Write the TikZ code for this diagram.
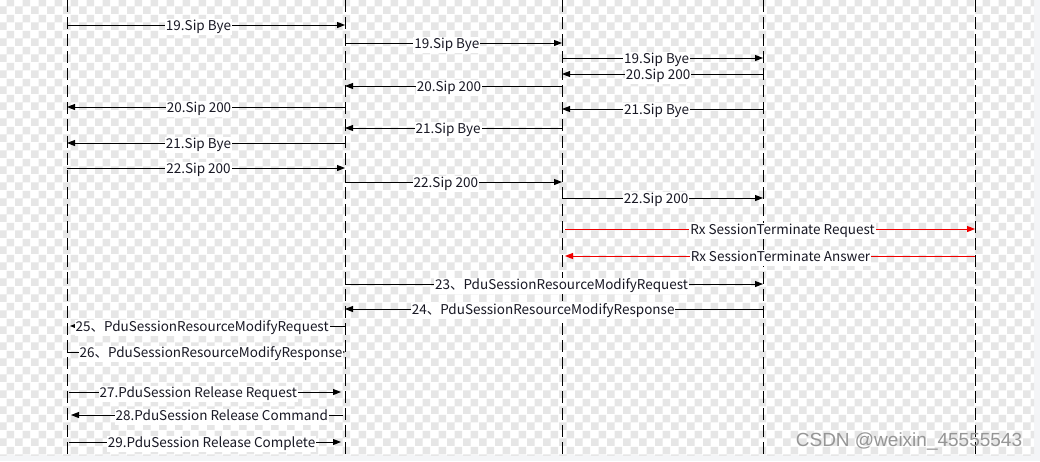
\documentclass[tikz,border=0pt]{standalone}
\usepackage{fontspec}
\newfontfamily\cjkfont{Noto Sans CJK SC}
\newfontfamily\wmfont{Liberation Sans}
\usetikzlibrary{arrows.meta,patterns}
\definecolor{checkgray}{RGB}{230,230,230}
\definecolor{edgegray}{RGB}{244,245,247}
\definecolor{labelink}{RGB}{24,24,36}
\definecolor{msgred}{RGB}{240,0,0}
\definecolor{wmgray}{RGB}{150,150,150}
% 8px transparency checker
\pgfdeclarepatternformonly{checker}{\pgfqpoint{0pt}{0pt}}{\pgfqpoint{16pt}{16pt}}{\pgfqpoint{16pt}{16pt}}{%
  \pgfpathrectangle{\pgfqpoint{0pt}{0pt}}{\pgfqpoint{8pt}{8pt}}%
  \pgfpathrectangle{\pgfqpoint{8pt}{8pt}}{\pgfqpoint{8pt}{8pt}}%
  \pgfusepath{fill}}
\begin{document}
\begin{tikzpicture}[x=1pt,y=-1pt,
  life/.style={line width=1pt,dash pattern=on 12pt off 5pt},
  msg/.style={line width=1pt,-{Triangle[length=8pt,width=6pt]}},
  rmsg/.style={msg,draw=msgred,shorten <=3pt},
  rmsgb/.style={msg,draw=msgred,shorten >=3pt},
  tmsg/.style={msg,shorten >=3pt},
  smsg/.style={msg,shorten <=2pt,shorten >=4pt},
  lbl/.style={fill=white,inner sep=1pt,text height=11pt,text depth=3pt,yshift=-1.6pt,
    text=labelink,font=\cjkfont\fontsize{13.5}{15}\selectfont}]
\useasboundingbox (0,0) rectangle (1040,461);
\fill[edgegray] (0,0) rectangle (1040,461);
\fill[white] (0,0) rectangle (1034,455);
\fill[pattern=checker,pattern color=checkgray] (0,0) rectangle (1034,455);

% lifelines
\foreach \n/\x in {la/67,lb/345,lc/562,ld/763,le/975}{
  \coordinate (\n) at (\x,0);
  \draw[life] (\n) -- (\x,455);
}

% messages
\foreach \y/\a/\b/\s/\p/\txt [count=\i] in {
  25/la/lb/msg/0.473/{19.Sip Bye},
  43/lb/lc/msg/0.469/{19.Sip Bye},
  58/lc/ld/msg/0.471/{19.Sip Bye},
  74/ld/lc/msg/0.522/{20.Sip 200},
  86/lc/lb/msg/0.521/{20.Sip 200},
  107/lb/la/msg/0.525/{20.Sip 200},
  109/ld/lc/msg/0.529/{21.Sip Bye},
  128/lc/lb/msg/0.525/{21.Sip Bye},
  143/lb/la/msg/0.527/{21.Sip Bye},
  168/la/lb/msg/0.473/{22.Sip 200},
  182/lb/lc/msg/0.465/{22.Sip 200},
  198/lc/ld/msg/0.468/{22.Sip 200},
  229/lc/le/rmsg/0.534/{Rx SessionTerminate Request},
  256/le/lc/rmsgb/0.471/{Rx SessionTerminate Answer},
  284/lb/ld/msg/0.518/{23、PduSessionResourceModifyRequest},
  309/ld/lb/msg/0.526/{24、PduSessionResourceModifyResponse},
  326/lb/la/tmsg/0.514/{25、PduSessionResourceModifyRequest},
  352/la/lb/msg/0.518/{26、PduSessionResourceModifyResponse},
  392/la/lb/smsg/0.472/{27.PduSession Release Request},
  415/lb/la/smsg/0.443/{28.PduSession Release Command},
  442/la/lb/smsg/0.520/{29.PduSession Release Complete}}
  \draw[\s] (\a |- 0,\y) -- node[lbl,pos=\p] (m\i) {\txt} (\b |- 0,\y);

\node[font=\wmfont\fontsize{19}{21}\selectfont,text=wmgray] (wm) at (909,441) {CSDN @weixin\_45555543};
\end{tikzpicture}
\end{document}
